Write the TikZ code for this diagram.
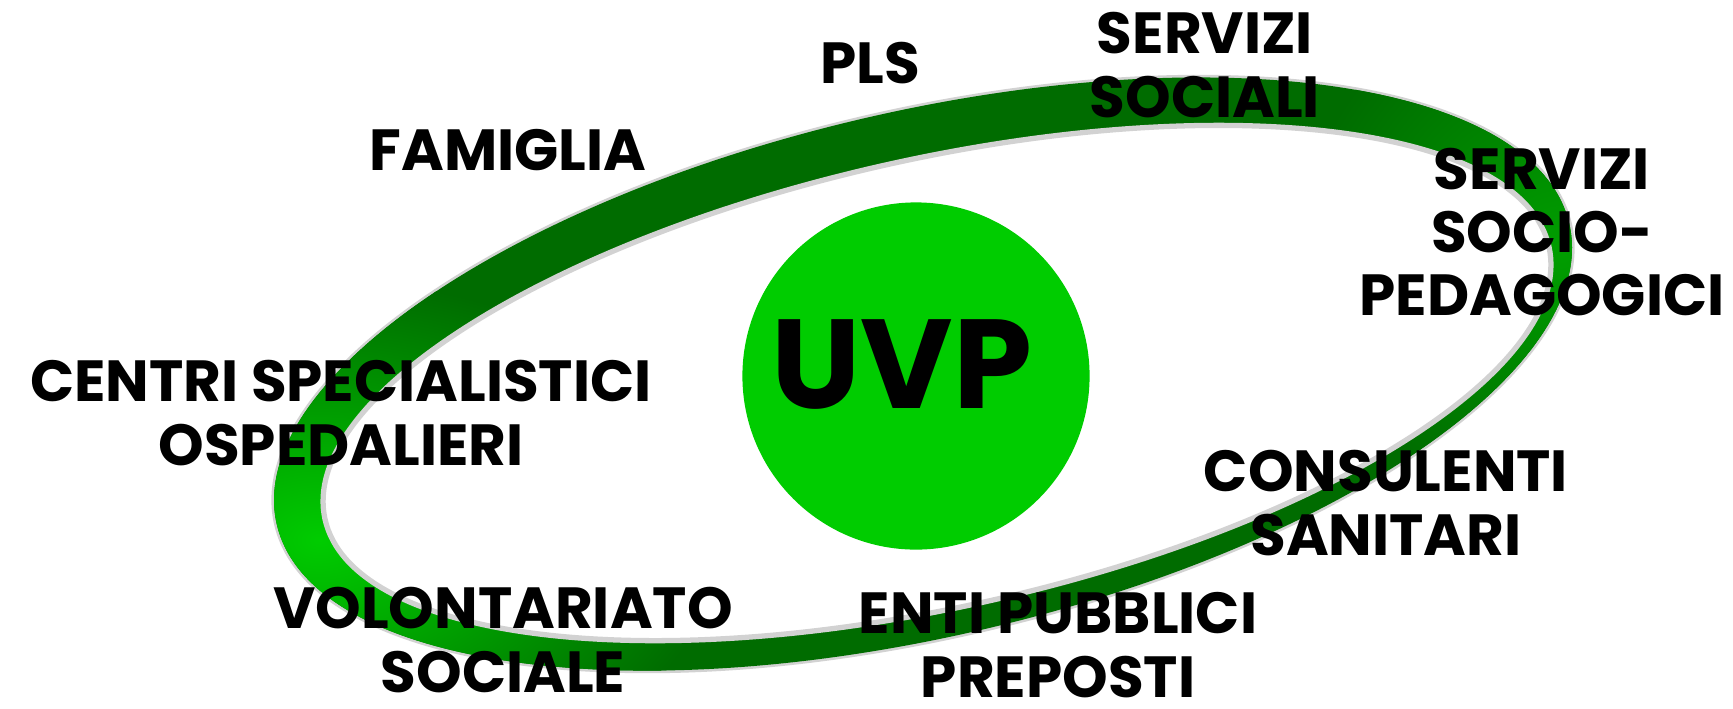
\documentclass[tikz,border=0pt]{standalone}
\usepackage{fontspec}
\setmainfont{Poppins}
\usetikzlibrary{shapes.geometric}

\definecolor{ringdark}{HTML}{006C00}
\definecolor{ringmid}{HTML}{009E00}
\definecolor{ringlight}{HTML}{00CC00}
\definecolor{hubgreen}{HTML}{00CC00}

\begin{document}
\begin{tikzpicture}[x=0.01cm, y=-0.01cm]
  % Settings
  \tikzset{
    lbl/.style={align=center, inner sep=0pt, font=\fontsize{16.5}{18}\selectfont\bfseries},
    hub/.style={circle, fill=hubgreen, minimum size=3.47cm, inner sep=0pt},
    hubtxt/.style={inner sep=0pt, font=\fontsize{36}{38}\selectfont\bfseries},
    rim/.style={draw=gray!35, line width=1.5pt},
    outerring/.style={rotate around={13.1:(923,374)}},
    innerring/.style={rotate around={12.55:(937,383)}},
  }
  \useasboundingbox (0,0) rectangle (1733,708);

  % Ring
  \draw[rim, outerring] (923,374) ellipse [x radius=663.5, y radius=262.4];
  \begin{scope}
    \clip[outerring] (923,374) ellipse [x radius=663.5, y radius=262.4];
    \fill[ringdark] (0,0) rectangle (1733,708);
    \shade[inner color=ringmid, outer color=ringdark] (1560,250) ellipse [x radius=260, y radius=260];
    \shade[inner color=ringlight, outer color=ringdark] (320,540) ellipse [x radius=400, y radius=260];
  \end{scope}
  \fill[white, rim, innerring] (937,383) ellipse [x radius=627, y radius=224];

  % Center
  \node[hub] (hub) at (916,376) {};
  \node[hubtxt] (uvp) at (902,364) {UVP};

  % Labels
  \node[lbl] (pls) at (870,63) {PLS};
  \node[lbl] (famiglia) at (508,150) {FAMIGLIA};
  \node[lbl] (sociali) at (1205,65) {SERVIZI\\SOCIALI};
  \node[lbl] (pedagogici) at (1542,232) {SERVIZI\\SOCIO-\\PEDAGOGICI};
  \node[lbl] (ospedalieri) at (341,413) {CENTRI SPECIALISTICI\\OSPEDALIERI};
  \node[lbl] (sanitari) at (1386,503) {CONSULENTI\\SANITARI};
  \node[lbl] (volontariato) at (503,640) {VOLONTARIATO\\SOCIALE};
  \node[lbl] (enti) at (1058,645) {ENTI PUBBLICI\\PREPOSTI};
\end{tikzpicture}
\end{document}
